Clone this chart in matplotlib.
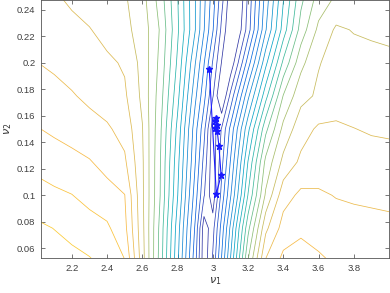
import matplotlib
matplotlib.use('Agg')
import matplotlib.pyplot as plt
import numpy as np
from matplotlib.colors import LinearSegmentedColormap, Normalize

# grid nodes (nu1, nu2) and level-index values
nu1 = [2.0, 2.1, 2.2, 2.3, 2.4, 2.5, 2.6, 2.7, 2.8, 2.9, 2.95, 3.0,
       3.05, 3.1, 3.15, 3.2, 3.3, 3.4, 3.5, 3.6, 3.7, 3.8, 3.9, 4.0]
nu2 = [0.05, 0.075, 0.1, 0.125, 0.15, 0.175, 0.2, 0.225, 0.25]

row_050 = [21.6, 21.45, 21.3, 21.1, 20.73, 20.04, 16.44, 12.63, 8.22, 3.35, 0.3, 2.17,
           5.1, 8.05, 11.05, 14.05, 18.1, 19.3, 19.35, 19.15, 18.9, 18.75, 18.65, 18.6]
row_075 = [21.2, 20.98, 20.7, 20.42, 20.17, 19.3, 16.3, 12.75, 8.5, 3.85, 0.4, 1.6,
           4.43, 7.2, 10.05, 12.7, 16.77, 18.4, 18.85, 18.65, 18.45, 18.4, 18.35, 18.3]
row_100 = [20.4, 20.2, 20.02, 19.68, 19.36, 19.02, 16.2, 13.05, 9.05, 4.5, 2.09, 0.3,
           3.37, 5.85, 8.43, 11.05, 15.15, 17.6, 18.2, 18.15, 17.95, 17.85, 17.78, 17.7]
row_125 = [19.7, 19.45, 19.3, 19.07, 18.67, 18.17, 16.16, 13.1, 9.33, 5.05, 2.66, 0.3,
           2.66, 5.05, 7.5, 10.05, 14.27, 16.28, 17.2, 17.4, 17.5, 17.45, 17.4, 17.35]
row_150 = [19.05, 18.84, 18.6, 18.37, 18.14, 17.64, 16.05, 13.25, 9.72, 5.4, 3.33, 0.4,
           2.08, 4.25, 6.5, 8.72, 12.72, 15.29, 16.6, 17.15, 17.2, 17.02, 16.9, 16.85]
row_175 = [18.5, 18.35, 18.08, 17.79, 17.48, 17.16, 15.78, 13.5, 10.33, 6.25, 4.33, 2.1,
           -0.2, 2.25, 4.5, 6.75, 10.65, 14.05, 15.7, 16.15, 16.4, 16.5, 16.5, 16.55]
row_200 = [18.02, 17.81, 17.6, 17.39, 17.19, 16.88, 15.67, 13.75, 10.82, 7.05, 5.07, 2.9,
           0.95, 0.2, 2.25, 4.5, 8.72, 12.22, 14.7, 15.95, 16.3, 16.35, 16.3, 16.25]
row_225 = [17.8, 17.6, 17.35, 17.05, 16.65, 16.26, 15.59, 13.93, 11.18, 8.04, 6.06, 4.1,
           1.74, 0.1, 0.6, 2.48, 6.9, 10.46, 13.43, 15.23, 16.15, 15.95, 15.85, 15.75]
row_250 = [17.5, 17.15, 16.75, 16.5, 16.3, 16.1, 15.37, 13.56, 11.05, 8.04, 6.26, 4.5,
           2.4, 0.4, 0.1, 2.2, 6.4, 9.9, 12.7, 14.37, 15.1, 15.4, 15.5, 15.6]

levels = np.arange(1, 22)

# optimiser path
path_nu1 = [2.98, 3.02, 3.047, 3.035, 3.025, 3.013, 3.025, 3.013, 3.02]
path_nu2 = [0.195, 0.101, 0.115, 0.137, 0.1485, 0.151, 0.153, 0.156, 0.158]

parula = LinearSegmentedColormap.from_list('parula', [
    (0.2081, 0.1663, 0.5292), (0.1959, 0.2645, 0.7279), (0.0117, 0.3875, 0.8820),
    (0.0793, 0.5200, 0.8312), (0.0228, 0.6535, 0.7768), (0.2178, 0.7250, 0.6193),
    (0.5709, 0.7485, 0.4494), (0.8507, 0.7299, 0.3360), (0.9739, 0.7314, 0.2666),
    (0.9880, 0.8066, 0.1794), (0.9763, 0.9831, 0.0538)])

Z = np.array([row_050, row_075, row_100, row_125, row_150,
              row_175, row_200, row_225, row_250])

plt.rcParams['font.family'] = ['Liberation Sans', 'DejaVu Sans']

fig = plt.figure(figsize=(3.9, 2.93), dpi=100)
ax = fig.add_axes([41 / 390, 35 / 293, 348 / 390, 258 / 293])

ax.contour(nu1, nu2, Z, levels=levels, cmap=parula,
           norm=Normalize(vmin=-0.5, vmax=24), linewidths=0.55)
ax.plot(path_nu1, path_nu2, color=(0.1, 0.1, 1.0), lw=0.8,
        marker='*', markersize=4.5)

ax.set_xlim(2.025, 4.0)
ax.set_ylim(0.0525, 0.2475)
xt = np.arange(2.2, 3.81, 0.2)
ax.set_xticks(xt)
ax.set_xticklabels(['%g' % round(v, 1) for v in xt])
yt = np.arange(0.06, 0.241, 0.02)
ax.set_yticks(yt)
ax.set_yticklabels(['%g' % round(v, 2) for v in yt])
ax.tick_params(direction='in', length=3, width=0.5, top=True, right=True,
               labelsize=6.8, colors='#404040', pad=4)
for s in ax.spines.values():
    s.set_color('#555555')
    s.set_linewidth(0.6)

ax.set_xlabel(r'$\nu_1$', fontsize=8, color='#333333', labelpad=2)
ax.set_ylabel(r'$\nu_2$', fontsize=8, color='#333333', labelpad=2)

fig.savefig('out.png', dpi=100)
